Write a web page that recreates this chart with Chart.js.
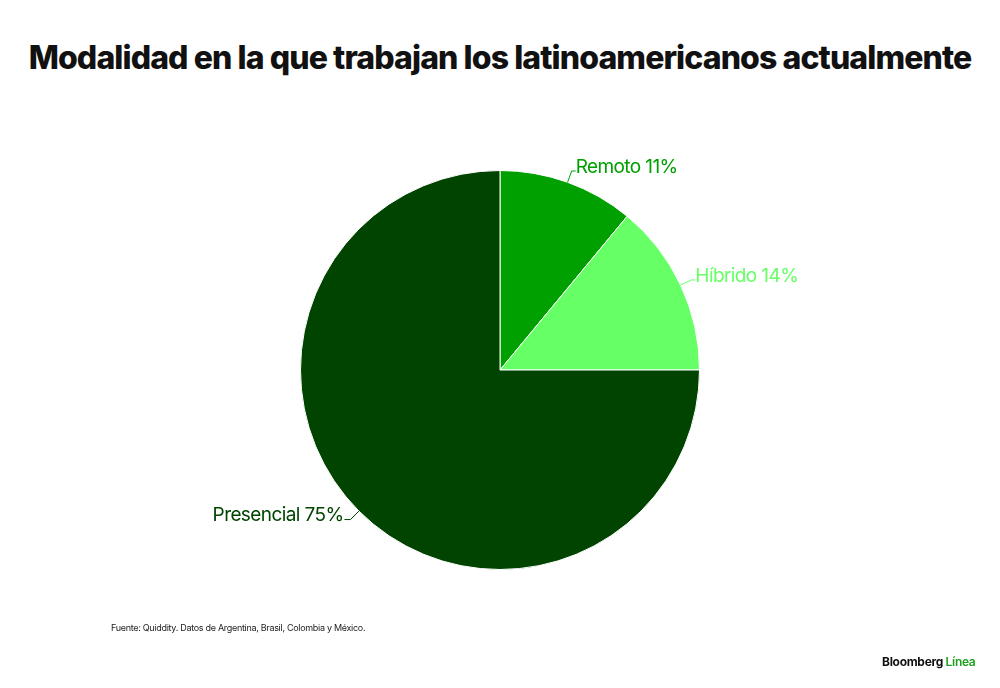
<!DOCTYPE html>
<html><head><meta charset="utf-8">
<script src="https://cdn.jsdelivr.net/npm/chart.js@4"></script>
<style>
body{margin:0;background:#fff;font-family:Inter,"Liberation Sans",sans-serif;}
#wrap{position:relative;width:1000px;height:688px;}
h1{position:absolute;top:38px;left:0;width:1000px;text-align:center;margin:0;font-size:32px;font-weight:800;letter-spacing:-0.9px;color:#111;}
#src{position:absolute;left:111px;top:622px;font-size:9px;color:#222;letter-spacing:-0.3px;}
#logo{position:absolute;left:882px;top:654px;font-size:12px;font-weight:700;color:#111;letter-spacing:-0.3px;}
#logo span{color:#1ea01e;font-weight:600;}
#c{position:absolute;left:0;top:0;}
</style></head><body>
<div id="wrap">
<h1>Modalidad en la que trabajan los latinoamericanos actualmente</h1>
<canvas id="c" width="1000" height="688"></canvas>
<div id="src">Fuente: Quiddity. Datos de Argentina, Brasil, Colombia y México.</div>
<div id="logo">Bloomberg <span>Línea</span></div>
</div>
<script>
const categories = ["Remoto", "Híbrido", "Presencial"];
const values = [11, 14, 75];
const colors = ["#00a000", "#66ff66", "#004400"];

const labelPlugin = {
  id: "outLabels",
  afterDraw(chart) {
    const ctx = chart.ctx;
    const arcs = chart.getDatasetMeta(0).data;
    ctx.save();
    ctx.font = "19px Inter, sans-serif";
    ctx.letterSpacing = "-0.6px";
    arcs.forEach((a, i) => {
      const mid = (a.startAngle + a.endAngle) / 2;
      const r = a.outerRadius;
      const x0 = a.x + Math.cos(mid) * r, y0 = a.y + Math.sin(mid) * r;
      const x1 = a.x + Math.cos(mid) * (r + 12), y1 = a.y + Math.sin(mid) * (r + 12);
      const right = Math.cos(mid) >= 0;
      const x2 = x1 + (right ? 4 : -6);
      ctx.strokeStyle = colors[i];
      ctx.lineWidth = 1;
      ctx.beginPath(); ctx.moveTo(x0, y0); ctx.lineTo(x1, y1); ctx.lineTo(x2, y1); ctx.stroke();
      ctx.fillStyle = colors[i];
      ctx.textBaseline = "middle";
      ctx.textAlign = right ? "left" : "right";
      ctx.fillText(categories[i] + " " + values[i] + "%", x2 + (right ? 0 : -1), y1 - 4);
    });
    ctx.restore();
  }
};

new Chart(document.getElementById("c"), {
  type: "pie",
  data: {
    labels: categories,
    datasets: [{ data: values, backgroundColor: colors, borderColor: "#fff", borderWidth: 1 }]
  },
  options: {
    responsive: false,
    animation: false,
    layout: { padding: { top: 170, bottom: 118, left: 300, right: 300 } },
    plugins: { legend: { display: false }, tooltip: { enabled: false } }
  },
  plugins: [labelPlugin]
});
</script>
</body></html>
